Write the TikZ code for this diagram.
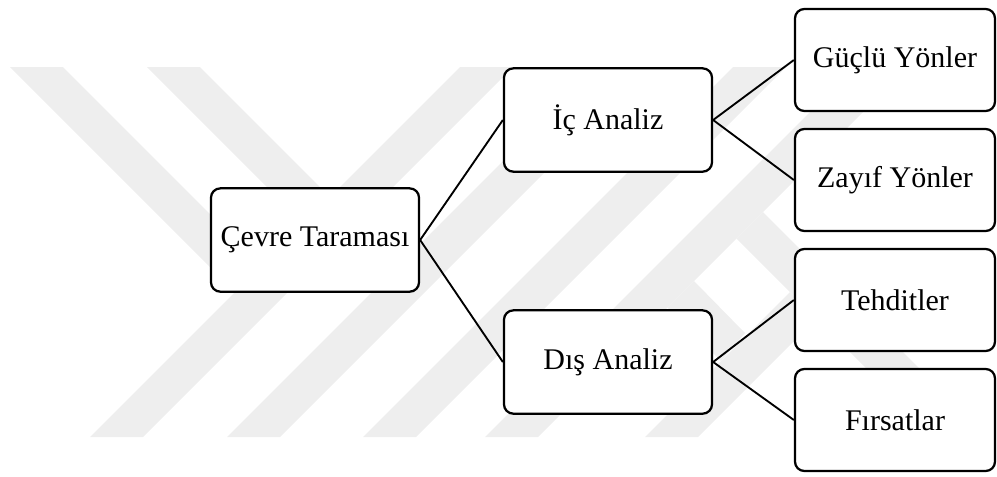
\documentclass[tikz,border=0pt]{standalone}
\usepackage{fontspec}
\setmainfont{Liberation Serif}
\definecolor{ink}{HTML}{000000}
\definecolor{wmgray}{HTML}{EEEEEE}

\begin{document}
\begin{tikzpicture}[x=.75pt,y=-.75pt,
  box/.style={draw=ink,line width=1.7pt,rounded corners=7pt,fill=white,
    minimum width=156pt,minimum height=77.5pt,inner sep=0pt,
    font=\fontsize{22.5}{27}\selectfont},
  leaf/.style={box,minimum width=150pt,minimum height=76.5pt},
  link/.style={draw=ink,line width=1.4pt}]
  \useasboundingbox (0,0) rectangle (997,476);

  % faint watermark stripes behind the diagram
  \fill[wmgray] (10,67)--(63,67)--(261.5,265.5)--(235,292)--cycle;
  \fill[wmgray] (147,67)--(200,67)--(398.5,265.5)--(372,292)--cycle;
  \foreach \x in {90,227,363,485}{
    \fill[wmgray] (\x,437)--(\x+53,437)--(\x+423,67)--(\x+370,67)--cycle;
  }
  \fill[wmgray] (736.5,238.5)--(763,212)--(988,437)--(935,437)--cycle;
  \fill[wmgray] (667.5,307.5)--(694,281)--(745,333)--(721,361)--cycle;
  \fill[wmgray] (645,437)--(698,437)--(816.5,318.5)--(790,292)--cycle;

  % root
  \node[box] (cevre) at (315,240) {Çevre Taraması};

  % second level
  \node[box] (ic) at (608,120) {İç Analiz};
  \node[box] (dis) at (608,362) {Dış Analiz};

  % leaves
  \node[leaf] (guclu) at (895,60) {Güçlü Yönler};
  \node[leaf] (zayif) at (895,180) {Zayıf Yönler};
  \node[leaf] (tehdit) at (895,300) {Tehditler};
  \node[leaf] (firsat) at (895,420) {Fırsatlar};

  \draw[link] (cevre.east)--(ic.west);
  \draw[link] (cevre.east)--(dis.west);
  \draw[link] (ic.east)--(guclu.west);
  \draw[link] (ic.east)--(zayif.west);
  \draw[link] (dis.east)--(tehdit.west);
  \draw[link] (dis.east)--(firsat.west);
\end{tikzpicture}
\end{document}
